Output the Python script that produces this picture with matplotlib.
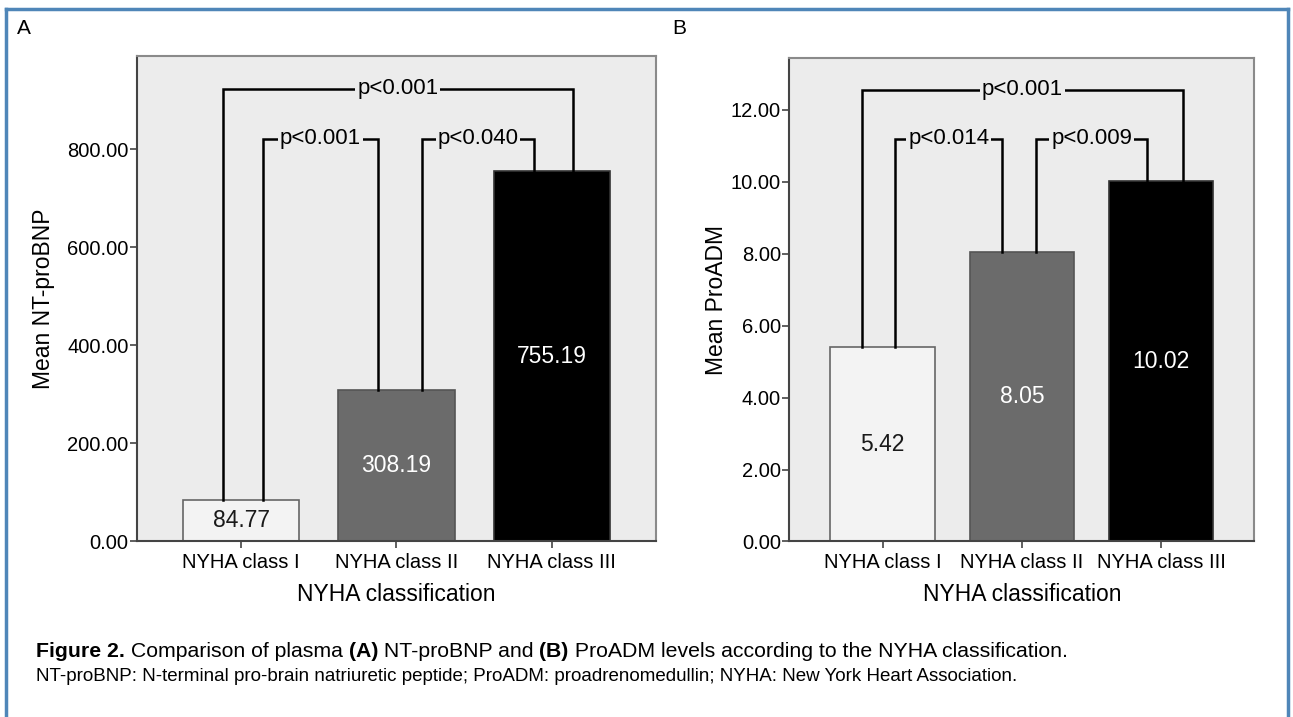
import matplotlib
matplotlib.use("Agg")
import matplotlib.pyplot as plt
from matplotlib.lines import Line2D

plt.rcParams['font.family'] = ['Liberation Sans', 'DejaVu Sans']

# data
classes = ['NYHA class I', 'NYHA class II', 'NYHA class III']
ntprobnp = [84.77, 308.19, 755.19]
proadm = [5.42, 8.05, 10.02]

# (bar i, bar j, label) for each comparison
pairs_a = [(0, 2, 'p<0.001'), (0, 1, 'p<0.001'), (1, 2, 'p<0.040')]
pairs_b = [(0, 2, 'p<0.001'), (0, 1, 'p<0.014'), (1, 2, 'p<0.009')]

bar_colors = ['#f3f3f3', '#6b6b6b', '#000000']
edge_colors = ['#666666', '#555555', '#333333']
text_colors = ['#1a1a1a', 'white', 'white']
bg = '#ececec'


def draw_panel(ax, values, pairs, ylim, yticks, ylabel, bracket_y, leg_off, ylabelpad):
    x = range(len(values))
    ax.set_facecolor(bg)
    ax.bar(x, values, width=0.75, color=bar_colors, edgecolor=edge_colors,
           linewidth=1.2, zorder=2)
    for i, v in enumerate(values):
        ax.text(i, v / 2, f'{v:.2f}', ha='center', va='center',
                fontsize=16.5, color=text_colors[i], zorder=3)

    # significance brackets, legs drop to the bar tops
    for (i, j, lab), y, (oi, oj) in zip(pairs, bracket_y, leg_off):
        xi, xj = i + oi, j + oj
        ax.plot([xi, xi, xj, xj], [values[i], y, y, values[j]],
                color='black', lw=1.8, solid_joinstyle='miter', zorder=4)
        ax.text((xi + xj) / 2, y, lab, ha='center', va='center',
                fontsize=16, zorder=5,
                bbox=dict(boxstyle='square,pad=0.08', fc=bg, ec='none'))

    ax.set_xlim(-0.67, 2.67)
    ax.set_ylim(*ylim)
    ax.set_xticks(list(x))
    ax.set_xticklabels(classes, fontsize=14.5)
    ax.set_yticks(yticks)
    ax.set_yticklabels([f'{t:.2f}' for t in yticks], fontsize=14.5)
    ax.tick_params(direction='out', length=5, width=1.2, color='#444444', pad=1)
    ax.tick_params(axis='x', pad=3)
    for s in ax.spines.values():
        s.set_color('#8a8a8a')
        s.set_linewidth(1.5)
    ax.spines['bottom'].set_color('#444444')
    ax.spines['left'].set_color('#444444')
    ax.set_ylabel(ylabel, fontsize=16.5, labelpad=ylabelpad)
    ax.set_xlabel('NYHA classification', fontsize=16.5, labelpad=8)


fig = plt.figure(figsize=(12.93, 7.17), dpi=100)
ax_a = fig.add_axes([0.106, 0.2448, 0.4013, 0.677])
ax_b = fig.add_axes([0.6105, 0.2448, 0.3597, 0.6747])

draw_panel(ax_a, ntprobnp, pairs_a, (0, 990), [0, 200, 400, 600, 800],
           'Mean NT-proBNP', [923, 821, 821],
           [(-0.12, 0.135), (0.14, -0.12), (0.165, -0.115)], 9)
draw_panel(ax_b, proadm, pairs_b, (0, 13.45), [0, 2, 4, 6, 8, 10, 12],
           'Mean ProADM', [12.56, 11.2, 11.2],
           [(-0.15, 0.16), (0.09, -0.14), (0.10, -0.10)], 2)

fig.text(17 / 1293, 1 - 28 / 717, 'A', fontsize=15, va='center')
fig.text(672 / 1293, 1 - 28 / 717, 'B', fontsize=15, va='center')

# caption
y1 = 1 - 657 / 717
parts = [('Figure 2.', 'bold'), (' Comparison of plasma ', 'normal'), ('(A)', 'bold'),
         (' NT-proBNP and ', 'normal'), ('(B)', 'bold'),
         (' ProADM levels according to the NYHA classification.', 'normal')]
fig.canvas.draw()
renderer = fig.canvas.get_renderer()
xpos = 36 / 1293
for txt, w in parts:
    t = fig.text(xpos, y1, txt, fontsize=15.3, fontweight=w, va='baseline')
    bb = t.get_window_extent(renderer=renderer)
    xpos += bb.width / fig.bbox.width
fig.text(36 / 1293, 1 - 681 / 717,
         'NT-proBNP: N-terminal pro-brain natriuretic peptide; ProADM: proadrenomedullin; '
         'NYHA: New York Heart Association.', fontsize=13.5, va='baseline')

# blue frame
frame_c = '#4f86b8'
fig.add_artist(Line2D([6 / 1293, 6 / 1293], [0, 1 - 9 / 717], color=frame_c, lw=2.5))
fig.add_artist(Line2D([6 / 1293, 1288 / 1293], [1 - 9 / 717, 1 - 9 / 717], color=frame_c, lw=2.5))
fig.add_artist(Line2D([1288 / 1293, 1288 / 1293], [0, 1 - 9 / 717], color=frame_c, lw=2.5))

fig.savefig('out.png', dpi=100)
